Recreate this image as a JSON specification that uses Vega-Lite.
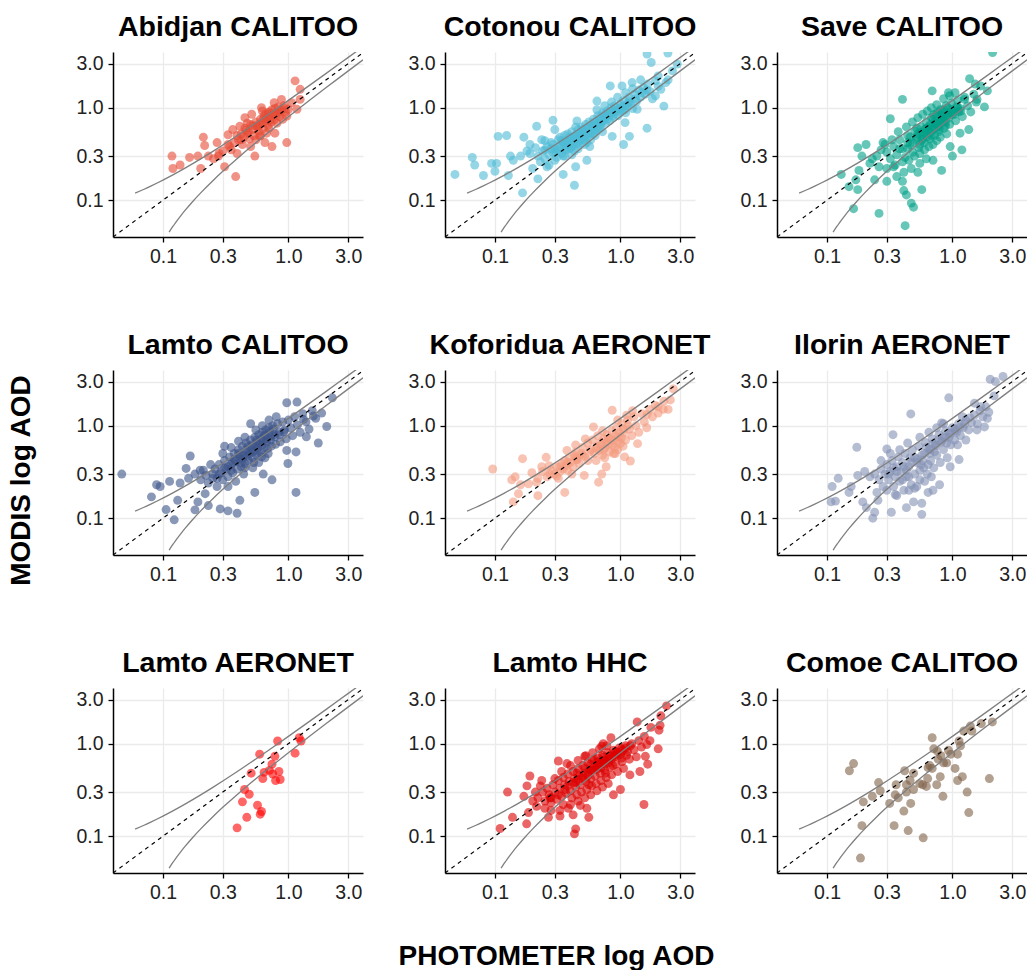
{
"padding": {"left": 7, "top": 12, "right": 0, "bottom": 5},
"config": {
  "font": "Liberation Sans",
  "view": {"stroke": null},
  "axis": {"domainColor": "black", "domainWidth": 1.5, "tickColor": "black", "tickWidth": 1.3, "tickSize": 5, "labelFont": "Liberation Sans", "labelFontSize": 19.5, "labelColor": "#222222", "labelPadding": 5, "gridColor": "#EBEBEB", "gridWidth": 1.3},
  "title": {"font": "Liberation Sans", "fontSize": 28.5, "fontWeight": "bold", "color": "black", "anchor": "middle", "offset": 11}
},
"datasets": {
  "ref": [
    {"k":"up","x":0.06,"y":0.119},{"k":"up","x":0.07,"y":0.1305},{"k":"up","x":0.08,"y":0.142},{"k":"up","x":0.09,"y":0.1535},{"k":"up","x":0.1,"y":0.165},{"k":"up","x":0.12,"y":0.188},{"k":"up","x":0.15,"y":0.2225},{"k":"up","x":0.2,"y":0.28},{"k":"up","x":0.25,"y":0.3375},{"k":"up","x":0.3,"y":0.395},{"k":"up","x":0.4,"y":0.51},{"k":"up","x":0.5,"y":0.625},{"k":"up","x":0.7,"y":0.855},{"k":"up","x":1,"y":1.2},{"k":"up","x":1.5,"y":1.775},{"k":"up","x":2,"y":2.35},{"k":"up","x":2.5,"y":2.925},{"k":"up","x":3,"y":3.5},{"k":"up","x":3.5,"y":4.075},{"k":"up","x":3.93,"y":4.5695},
    {"k":"lo","x":0.112,"y":0.0452},{"k":"lo","x":0.115,"y":0.04775},{"k":"lo","x":0.12,"y":0.052},{"k":"lo","x":0.125,"y":0.05625},{"k":"lo","x":0.13,"y":0.0605},{"k":"lo","x":0.14,"y":0.069},{"k":"lo","x":0.15,"y":0.0775},{"k":"lo","x":0.17,"y":0.0945},{"k":"lo","x":0.2,"y":0.12},{"k":"lo","x":0.25,"y":0.1625},{"k":"lo","x":0.3,"y":0.205},{"k":"lo","x":0.4,"y":0.29},{"k":"lo","x":0.5,"y":0.375},{"k":"lo","x":0.7,"y":0.545},{"k":"lo","x":1,"y":0.8},{"k":"lo","x":1.5,"y":1.225},{"k":"lo","x":2,"y":1.65},{"k":"lo","x":2.5,"y":2.075},{"k":"lo","x":3,"y":2.5},{"k":"lo","x":3.93,"y":3.2905},
    {"k":"eq","x":0.04,"y":0.04},{"k":"eq","x":3.93,"y":3.93}
  ],
  "AB": [
    {"x":0.118,"y":0.30},{"x":0.12,"y":0.22},{"x":0.137,"y":0.24},{"x":0.163,"y":0.29},{"x":0.19,"y":0.30},{"x":0.20,"y":0.22},{"x":0.21,"y":0.48},{"x":0.215,"y":0.39},{"x":0.23,"y":0.30},{"x":0.253,"y":0.28},{"x":0.27,"y":0.42},{"x":0.277,"y":0.30},{"x":0.31,"y":0.23},{"x":0.38,"y":0.18},{"x":0.33,"y":0.51},{"x":0.34,"y":0.38},{"x":0.36,"y":0.58},{"x":0.39,"y":0.32},{"x":0.41,"y":0.63},{"x":0.42,"y":0.45},{"x":0.45,"y":0.78},{"x":0.47,"y":0.53},{"x":0.50,"y":0.38},{"x":0.51,"y":0.85},{"x":0.54,"y":0.30},{"x":0.56,"y":0.63},{"x":0.59,"y":0.49},{"x":0.61,"y":1.0},{"x":0.63,"y":0.75},{"x":0.65,"y":0.42},{"x":0.67,"y":0.53},{"x":0.69,"y":0.88},{"x":0.74,"y":0.38},{"x":0.77,"y":1.13},{"x":0.78,"y":0.53},{"x":0.81,"y":0.68},{"x":0.86,"y":0.92},{"x":0.90,"y":0.75},{"x":0.97,"y":0.42},{"x":1.0,"y":0.96},{"x":1.06,"y":1.13},{"x":1.17,"y":0.96},{"x":1.13,"y":1.95},{"x":1.24,"y":1.58},{"x":1.24,"y":1.23},{"x":0.97,"y":0.81},{"x":0.88,"y":1.23},
    {"x":0.42,"y":0.52},{"x":0.45,"y":0.60},{"x":0.48,"y":0.55},{"x":0.50,"y":0.66},{"x":0.52,"y":0.58},{"x":0.55,"y":0.70},{"x":0.57,"y":0.62},{"x":0.60,"y":0.75},{"x":0.62,"y":0.68},{"x":0.64,"y":0.82},{"x":0.66,"y":0.72},{"x":0.68,"y":0.78},{"x":0.70,"y":0.90},{"x":0.72,"y":0.80},{"x":0.74,"y":0.95},{"x":0.76,"y":0.85},{"x":0.78,"y":0.98},{"x":0.80,"y":0.88},{"x":0.83,"y":1.02},{"x":0.85,"y":0.80},{"x":0.88,"y":0.95},{"x":0.92,"y":1.05},{"x":0.95,"y":0.90},{"x":0.40,"y":0.45},{"x":0.44,"y":0.48},{"x":0.47,"y":0.68},{"x":0.53,"y":0.50},{"x":0.58,"y":0.56},{"x":0.63,"y":0.60},{"x":0.69,"y":0.65},{"x":0.73,"y":0.70},{"x":0.77,"y":0.74},{"x":0.55,"y":0.45},{"x":0.60,"y":0.50},{"x":0.37,"y":0.42},{"x":0.39,"y":0.50},{"x":0.33,"y":0.40},{"x":0.35,"y":0.35},{"x":0.30,"y":0.34},{"x":0.28,"y":0.32},
    {"x":0.46,"y":0.57},{"x":0.52,"y":0.64},{"x":0.58,"y":0.66},{"x":0.66,"y":0.85},{"x":0.71,"y":0.74},{"x":0.79,"y":0.82},{"x":0.84,"y":0.90},{"x":0.43,"y":0.40},{"x":0.49,"y":0.46},{"x":0.62,"y":0.92},{"x":0.70,"y":0.60},{"x":0.93,"y":0.98}
  ],
  "CO": [
    {"x":0.048,"y":0.19},{"x":0.066,"y":0.29},{"x":0.069,"y":0.24},{"x":0.081,"y":0.185},{"x":0.094,"y":0.25},{"x":0.10,"y":0.205},{"x":0.103,"y":0.25},{"x":0.106,"y":0.49},{"x":0.124,"y":0.50},{"x":0.128,"y":0.185},{"x":0.133,"y":0.30},{"x":0.166,"y":0.12},{"x":0.17,"y":0.48},{"x":0.19,"y":0.32},{"x":0.20,"y":0.22},{"x":0.215,"y":0.63},{"x":0.22,"y":0.17},{"x":0.236,"y":0.45},{"x":0.25,"y":0.35},{"x":0.26,"y":0.23},{"x":0.29,"y":0.73},{"x":0.30,"y":0.58},{"x":0.35,"y":0.19},{"x":0.36,"y":0.30},{"x":0.43,"y":0.145},{"x":0.44,"y":0.23},{"x":0.45,"y":0.72},{"x":0.51,"y":0.45},{"x":0.54,"y":0.27},{"x":0.57,"y":0.38},{"x":0.65,"y":1.18},{"x":0.65,"y":0.58},{"x":0.73,"y":0.81},{"x":0.83,"y":1.72},{"x":0.86,"y":0.49},{"x":1.03,"y":1.72},{"x":1.06,"y":0.40},{"x":1.09,"y":0.69},{"x":1.18,"y":0.49},{"x":1.24,"y":1.87},{"x":1.36,"y":0.96},{"x":1.45,"y":2.0},{"x":1.63,"y":0.60},{"x":1.63,"y":3.8},{"x":1.76,"y":3.08},{"x":1.9,"y":1.34},{"x":2.0,"y":2.2},{"x":2.22,"y":1.04},{"x":2.1,"y":1.58},{"x":2.39,"y":3.9},{"x":2.4,"y":2.0},{"x":2.84,"y":2.96},{"x":2.6,"y":2.5},{"x":2.3,"y":1.87},
    {"x":0.22,"y":0.30},{"x":0.24,"y":0.34},{"x":0.25,"y":0.28},{"x":0.26,"y":0.38},{"x":0.27,"y":0.31},{"x":0.28,"y":0.42},{"x":0.29,"y":0.33},{"x":0.30,"y":0.36},{"x":0.31,"y":0.29},{"x":0.32,"y":0.45},{"x":0.33,"y":0.38},{"x":0.34,"y":0.32},{"x":0.35,"y":0.42},{"x":0.36,"y":0.50},{"x":0.37,"y":0.35},{"x":0.38,"y":0.40},{"x":0.39,"y":0.47},{"x":0.40,"y":0.37},{"x":0.41,"y":0.55},{"x":0.42,"y":0.43},{"x":0.43,"y":0.34},{"x":0.44,"y":0.50},{"x":0.45,"y":0.46},{"x":0.46,"y":0.58},{"x":0.47,"y":0.40},{"x":0.48,"y":0.53},{"x":0.49,"y":0.62},{"x":0.50,"y":0.48},{"x":0.52,"y":0.55},{"x":0.53,"y":0.66},{"x":0.54,"y":0.42},{"x":0.55,"y":0.60},{"x":0.56,"y":0.70},{"x":0.58,"y":0.52},{"x":0.60,"y":0.64},{"x":0.61,"y":0.75},{"x":0.62,"y":0.56},{"x":0.64,"y":0.70},{"x":0.66,"y":0.82},{"x":0.67,"y":0.60},{"x":0.69,"y":0.74},{"x":0.70,"y":0.66},{"x":0.72,"y":0.88},{"x":0.74,"y":0.78},{"x":0.76,"y":0.68},{"x":0.78,"y":0.92},{"x":0.80,"y":0.82},{"x":0.82,"y":0.72},{"x":0.84,"y":1.00},{"x":0.86,"y":0.88},{"x":0.88,"y":0.78},{"x":0.90,"y":1.05},{"x":0.93,"y":0.92},{"x":0.96,"y":0.82},{"x":1.00,"y":1.10},{"x":1.03,"y":0.95},{"x":1.06,"y":1.20},{"x":1.10,"y":0.88},{"x":1.13,"y":1.05},{"x":1.17,"y":1.30},{"x":1.20,"y":1.12},{"x":1.25,"y":0.98},{"x":1.30,"y":1.40},{"x":1.35,"y":1.18},{"x":1.40,"y":1.55},{"x":1.45,"y":1.30},{"x":1.52,"y":1.65},{"x":1.58,"y":1.40},{"x":1.65,"y":1.80},{"x":1.72,"y":1.50},{"x":1.80,"y":1.25},{"x":1.90,"y":1.95},{"x":2.0,"y":1.70},{"x":0.27,"y":0.24},{"x":0.30,"y":0.27},{"x":0.35,"y":0.30},{"x":0.41,"y":0.31},{"x":0.46,"y":0.36},{"x":0.52,"y":0.40},{"x":0.58,"y":0.45},{"x":0.63,"y":0.50},{"x":0.72,"y":0.55},{"x":0.44,"y":0.62},{"x":0.38,"y":0.52},{"x":0.33,"y":0.48},{"x":0.29,"y":0.40},{"x":0.25,"y":0.44},{"x":0.21,"y":0.37},{"x":0.19,"y":0.40},{"x":0.18,"y":0.34},{"x":0.16,"y":0.30},{"x":0.14,"y":0.27},{"x":0.23,"y":0.26},{"x":0.95,"y":1.30},{"x":0.85,"y":1.15},{"x":0.75,"y":1.05},{"x":0.65,"y":0.95},{"x":1.1,"y":1.45},{"x":1.25,"y":1.60},
    {"x":0.32,"y":0.35},{"x":0.36,"y":0.40},{"x":0.40,"y":0.44},{"x":0.43,"y":0.48},{"x":0.47,"y":0.50},{"x":0.51,"y":0.55},{"x":0.55,"y":0.53},{"x":0.59,"y":0.62},{"x":0.63,"y":0.65},{"x":0.68,"y":0.70},{"x":0.73,"y":0.72},{"x":0.77,"y":0.80},{"x":0.83,"y":0.85},{"x":0.89,"y":0.92},{"x":0.98,"y":0.98},{"x":1.08,"y":1.05},{"x":1.18,"y":1.18},{"x":1.32,"y":1.25},{"x":1.48,"y":1.45},{"x":1.62,"y":1.55},{"x":0.28,"y":0.36},{"x":0.34,"y":0.44},{"x":0.39,"y":0.36},{"x":0.45,"y":0.41},
    {"x":0.34,"y":0.40},{"x":0.37,"y":0.44},{"x":0.40,"y":0.48},{"x":0.42,"y":0.40},{"x":0.45,"y":0.52},{"x":0.48,"y":0.45},{"x":0.50,"y":0.58},{"x":0.53,"y":0.50},{"x":0.56,"y":0.62},{"x":0.59,"y":0.56},{"x":0.62,"y":0.70},{"x":0.65,"y":0.63},{"x":0.68,"y":0.78},{"x":0.71,"y":0.70},{"x":0.75,"y":0.85},{"x":0.79,"y":0.76},{"x":0.83,"y":0.92},{"x":0.87,"y":0.82},{"x":0.92,"y":0.98},{"x":0.97,"y":0.90},{"x":1.02,"y":1.02},{"x":1.08,"y":0.95},{"x":1.15,"y":1.12},{"x":0.31,"y":0.33},{"x":0.36,"y":0.36},{"x":0.41,"y":0.38},{"x":0.47,"y":0.44},{"x":0.54,"y":0.48},{"x":0.61,"y":0.52},{"x":0.69,"y":0.60}
  ],
  "SA": [
    {"x":0.13,"y":0.19},{"x":0.15,"y":0.14},{"x":0.163,"y":0.081},{"x":0.17,"y":0.166},{"x":0.176,"y":0.37},{"x":0.176,"y":0.13},{"x":0.18,"y":0.21},{"x":0.19,"y":0.30},{"x":0.205,"y":0.40},{"x":0.22,"y":0.25},{"x":0.24,"y":0.166},{"x":0.26,"y":0.072},{"x":0.26,"y":0.23},{"x":0.29,"y":0.40},{"x":0.30,"y":0.16},{"x":0.32,"y":0.76},{"x":0.34,"y":0.23},{"x":0.40,"y":1.23},{"x":0.40,"y":0.16},{"x":0.41,"y":0.127},{"x":0.43,"y":0.114},{"x":0.42,"y":0.053},{"x":0.47,"y":0.093},{"x":0.49,"y":0.084},{"x":0.57,"y":0.13},{"x":0.53,"y":0.20},{"x":0.69,"y":1.52},{"x":0.70,"y":0.27},{"x":0.82,"y":0.21},{"x":0.93,"y":1.45},{"x":0.96,"y":0.38},{"x":1.0,"y":0.30},{"x":1.15,"y":0.53},{"x":1.19,"y":0.35},{"x":1.35,"y":0.58},{"x":1.37,"y":2.06},{"x":1.52,"y":1.8},{"x":1.57,"y":1.23},{"x":1.8,"y":1.02},{"x":1.9,"y":1.52},{"x":2.09,"y":3.95},{"x":1.68,"y":1.72},{"x":1.25,"y":1.23},
    {"x":0.30,"y":0.33},{"x":0.32,"y":0.28},{"x":0.34,"y":0.38},{"x":0.36,"y":0.31},{"x":0.38,"y":0.45},{"x":0.40,"y":0.36},{"x":0.42,"y":0.29},{"x":0.44,"y":0.50},{"x":0.46,"y":0.40},{"x":0.48,"y":0.33},{"x":0.50,"y":0.56},{"x":0.52,"y":0.45},{"x":0.54,"y":0.37},{"x":0.56,"y":0.62},{"x":0.58,"y":0.50},{"x":0.60,"y":0.42},{"x":0.62,"y":0.70},{"x":0.64,"y":0.56},{"x":0.66,"y":0.46},{"x":0.68,"y":0.78},{"x":0.70,"y":0.62},{"x":0.72,"y":0.50},{"x":0.74,"y":0.86},{"x":0.76,"y":0.68},{"x":0.78,"y":0.55},{"x":0.80,"y":0.95},{"x":0.83,"y":0.75},{"x":0.86,"y":0.60},{"x":0.89,"y":1.05},{"x":0.92,"y":0.82},{"x":0.95,"y":0.66},{"x":0.98,"y":1.12},{"x":1.02,"y":0.90},{"x":1.06,"y":0.72},{"x":1.10,"y":1.20},{"x":1.15,"y":0.98},{"x":1.20,"y":0.80},{"x":1.25,"y":1.30},{"x":1.32,"y":1.05},{"x":1.40,"y":0.90},{"x":1.48,"y":1.40},{"x":1.55,"y":1.15},{"x":0.35,"y":0.24},{"x":0.40,"y":0.26},{"x":0.45,"y":0.27},{"x":0.50,"y":0.30},{"x":0.55,"y":0.32},{"x":0.60,"y":0.35},{"x":0.65,"y":0.38},{"x":0.70,"y":0.40},{"x":0.75,"y":0.44},{"x":0.80,"y":0.48},{"x":0.90,"y":0.52},{"x":0.25,"y":0.30},{"x":0.27,"y":0.35},{"x":0.23,"y":0.28},{"x":0.28,"y":0.42},{"x":0.30,"y":0.22},{"x":0.33,"y":0.45},{"x":0.37,"y":0.55},{"x":0.43,"y":0.62},{"x":0.48,"y":0.70},{"x":0.53,"y":0.78},{"x":0.58,"y":0.85},{"x":0.63,"y":0.92},{"x":0.68,"y":1.00},{"x":0.75,"y":1.08},{"x":0.85,"y":1.25},{"x":0.95,"y":1.35},{"x":1.05,"y":1.45},{"x":0.53,"y":0.52},{"x":0.62,"y":0.60},{"x":0.72,"y":0.70},{"x":0.82,"y":0.82},{"x":0.44,"y":0.42},{"x":0.38,"y":0.36},{"x":0.57,"y":0.44},{"x":0.67,"y":0.54},{"x":0.78,"y":0.64},{"x":0.88,"y":0.70},{"x":1.0,"y":0.85},{"x":1.12,"y":0.90},{"x":0.47,"y":0.22},{"x":0.55,"y":0.25},{"x":0.62,"y":0.28},{"x":0.41,"y":0.20},{"x":0.36,"y":0.18},
    {"x":0.60,"y":0.58},{"x":0.66,"y":0.65},{"x":0.73,"y":0.60},{"x":0.80,"y":0.72},{"x":0.87,"y":0.80},{"x":0.95,"y":0.88},{"x":0.70,"y":0.75},{"x":0.63,"y":0.48},{"x":0.77,"y":0.90},{"x":0.52,"y":0.60},{"x":0.46,"y":0.48},{"x":0.85,"y":0.95},{"x":1.08,"y":1.02},{"x":0.92,"y":1.00},
    {"x":0.52,"y":0.48},{"x":0.56,"y":0.54},{"x":0.61,"y":0.52},{"x":0.65,"y":0.62},{"x":0.69,"y":0.58},{"x":0.73,"y":0.68},{"x":0.77,"y":0.62},{"x":0.81,"y":0.78},{"x":0.85,"y":0.70},{"x":0.90,"y":0.86},{"x":0.94,"y":0.78},{"x":0.99,"y":0.95},{"x":1.04,"y":0.85},{"x":1.10,"y":1.00},{"x":1.17,"y":0.92},{"x":0.48,"y":0.42},{"x":0.58,"y":0.46},{"x":0.68,"y":0.50},{"x":0.79,"y":0.58},{"x":0.88,"y":0.64},{"x":0.44,"y":0.36},{"x":0.55,"y":0.40},{"x":0.71,"y":0.84},{"x":0.83,"y":0.88}
  ],
  "LC": [
    {"x":0.047,"y":0.30},{"x":0.081,"y":0.17},{"x":0.089,"y":0.23},{"x":0.095,"y":0.22},{"x":0.106,"y":0.124},{"x":0.113,"y":0.25},{"x":0.123,"y":0.096},{"x":0.131,"y":0.156},{"x":0.137,"y":0.24},{"x":0.153,"y":0.345},{"x":0.165,"y":0.47},{"x":0.18,"y":0.123},{"x":0.19,"y":0.15},{"x":0.198,"y":0.33},{"x":0.217,"y":0.184},{"x":0.23,"y":0.137},{"x":0.286,"y":0.126},{"x":0.31,"y":0.60},{"x":0.33,"y":0.12},{"x":0.39,"y":0.113},{"x":0.41,"y":0.156},{"x":0.50,"y":1.05},{"x":0.54,"y":0.19},{"x":0.63,"y":0.30},{"x":0.74,"y":0.26},{"x":0.97,"y":1.77},{"x":0.99,"y":0.39},{"x":1.15,"y":0.19},{"x":1.17,"y":1.8},{"x":1.15,"y":0.52},{"x":1.39,"y":0.76},{"x":1.58,"y":1.27},{"x":1.73,"y":0.65},{"x":1.84,"y":1.37},{"x":2.02,"y":0.98},{"x":2.24,"y":2.0},{"x":0.97,"y":0.54},{"x":1.32,"y":1.17},
    {"x":0.20,"y":0.26},{"x":0.22,"y":0.29},{"x":0.23,"y":0.24},{"x":0.25,"y":0.30},{"x":0.26,"y":0.34},{"x":0.27,"y":0.27},{"x":0.28,"y":0.38},{"x":0.29,"y":0.31},{"x":0.30,"y":0.26},{"x":0.31,"y":0.42},{"x":0.32,"y":0.34},{"x":0.33,"y":0.28},{"x":0.34,"y":0.46},{"x":0.35,"y":0.38},{"x":0.36,"y":0.31},{"x":0.37,"y":0.50},{"x":0.38,"y":0.41},{"x":0.39,"y":0.34},{"x":0.40,"y":0.55},{"x":0.41,"y":0.44},{"x":0.42,"y":0.36},{"x":0.43,"y":0.60},{"x":0.44,"y":0.48},{"x":0.45,"y":0.39},{"x":0.46,"y":0.65},{"x":0.47,"y":0.52},{"x":0.48,"y":0.42},{"x":0.50,"y":0.70},{"x":0.51,"y":0.56},{"x":0.52,"y":0.45},{"x":0.54,"y":0.75},{"x":0.55,"y":0.60},{"x":0.56,"y":0.48},{"x":0.58,"y":0.80},{"x":0.59,"y":0.64},{"x":0.60,"y":0.51},{"x":0.62,"y":0.85},{"x":0.63,"y":0.68},{"x":0.64,"y":0.54},{"x":0.66,"y":0.90},{"x":0.67,"y":0.72},{"x":0.68,"y":0.57},{"x":0.70,"y":0.95},{"x":0.72,"y":0.76},{"x":0.73,"y":0.60},{"x":0.75,"y":1.00},{"x":0.77,"y":0.80},{"x":0.79,"y":0.63},{"x":0.82,"y":1.05},{"x":0.84,"y":0.85},{"x":0.86,"y":0.67},{"x":0.90,"y":1.10},{"x":0.93,"y":0.90},{"x":0.96,"y":0.72},{"x":1.00,"y":1.15},{"x":1.04,"y":0.95},{"x":1.08,"y":0.78},{"x":1.12,"y":1.25},{"x":1.18,"y":1.02},{"x":1.24,"y":0.85},{"x":1.30,"y":1.35},{"x":1.38,"y":1.10},{"x":1.46,"y":0.92},{"x":1.55,"y":1.45},{"x":1.65,"y":1.20},{"x":0.24,"y":0.38},{"x":0.27,"y":0.22},{"x":0.33,"y":0.22},{"x":0.38,"y":0.25},{"x":0.44,"y":0.30},{"x":0.52,"y":0.35},{"x":0.58,"y":0.40},{"x":0.65,"y":0.45},{"x":0.40,"y":0.68},{"x":0.45,"y":0.75},{"x":0.35,"y":0.58},{"x":0.30,"y":0.50},{"x":0.55,"y":0.90},{"x":0.62,"y":1.00},{"x":0.70,"y":1.15},{"x":0.80,"y":1.25},{"x":0.18,"y":0.30},{"x":0.16,"y":0.27},{"x":0.21,"y":0.33},{"x":0.25,"y":0.27},
    {"x":0.36,"y":0.40},{"x":0.41,"y":0.48},{"x":0.46,"y":0.55},{"x":0.51,"y":0.62},{"x":0.56,"y":0.66},{"x":0.61,"y":0.72},{"x":0.66,"y":0.80},{"x":0.71,"y":0.86},{"x":0.76,"y":0.92},{"x":0.31,"y":0.35},{"x":0.43,"y":0.44},{"x":0.49,"y":0.50},{"x":0.55,"y":0.54},
    {"x":0.33,"y":0.36},{"x":0.37,"y":0.43},{"x":0.42,"y":0.40},{"x":0.47,"y":0.47},{"x":0.52,"y":0.52},{"x":0.57,"y":0.58},{"x":0.62,"y":0.62},{"x":0.67,"y":0.66},{"x":0.72,"y":0.70},{"x":0.78,"y":0.76},{"x":0.85,"y":0.80},{"x":0.92,"y":0.86},{"x":0.40,"y":0.50},{"x":0.48,"y":0.60},{"x":0.56,"y":0.70},{"x":0.64,"y":0.78},{"x":0.45,"y":0.35},{"x":0.53,"y":0.40},{"x":0.61,"y":0.46},{"x":0.69,"y":0.50},{"x":0.35,"y":0.33},{"x":0.28,"y":0.30}
  ],
  "KO": [
    {"x":0.096,"y":0.34},{"x":0.136,"y":0.26},{"x":0.145,"y":0.28},{"x":0.14,"y":0.15},{"x":0.154,"y":0.184},{"x":0.16,"y":0.23},{"x":0.166,"y":0.44},{"x":0.185,"y":0.235},{"x":0.197,"y":0.31},{"x":0.215,"y":0.245},{"x":0.22,"y":0.175},{"x":0.236,"y":0.36},{"x":0.256,"y":0.455},{"x":0.275,"y":0.30},{"x":0.31,"y":0.285},{"x":0.36,"y":0.19},{"x":0.375,"y":0.54},{"x":0.44,"y":0.62},{"x":0.45,"y":0.43},{"x":0.515,"y":0.29},{"x":0.525,"y":0.72},{"x":0.61,"y":0.97},{"x":0.67,"y":0.245},{"x":0.71,"y":0.30},{"x":0.77,"y":0.36},{"x":0.86,"y":1.47},{"x":0.91,"y":0.50},{"x":1.08,"y":0.46},{"x":1.2,"y":0.415},{"x":1.37,"y":0.64},{"x":1.63,"y":1.32},{"x":2.0,"y":1.37},{"x":2.22,"y":1.84},{"x":2.4,"y":1.5},{"x":2.5,"y":1.9},{"x":2.64,"y":2.5},{"x":2.2,"y":1.5},{"x":2.0,"y":1.6},
    {"x":0.26,"y":0.28},{"x":0.28,"y":0.33},{"x":0.30,"y":0.30},{"x":0.31,"y":0.36},{"x":0.33,"y":0.32},{"x":0.34,"y":0.39},{"x":0.35,"y":0.34},{"x":0.36,"y":0.42},{"x":0.37,"y":0.37},{"x":0.38,"y":0.33},{"x":0.39,"y":0.45},{"x":0.40,"y":0.40},{"x":0.42,"y":0.36},{"x":0.43,"y":0.48},{"x":0.45,"y":0.43},{"x":0.47,"y":0.39},{"x":0.49,"y":0.50},{"x":0.52,"y":0.46},{"x":0.55,"y":0.42},{"x":0.58,"y":0.55},{"x":0.62,"y":0.50},{"x":0.65,"y":0.60},{"x":0.68,"y":0.54},{"x":0.70,"y":0.66},{"x":0.72,"y":0.48},{"x":0.74,"y":0.72},{"x":0.76,"y":0.58},{"x":0.78,"y":0.80},{"x":0.80,"y":0.63},{"x":0.82,"y":0.52},{"x":0.85,"y":0.88},{"x":0.87,"y":0.70},{"x":0.90,"y":0.58},{"x":0.93,"y":0.95},{"x":0.96,"y":0.76},{"x":1.00,"y":0.64},{"x":1.03,"y":1.05},{"x":1.06,"y":0.85},{"x":1.10,"y":0.70},{"x":1.14,"y":1.15},{"x":1.18,"y":0.92},{"x":1.23,"y":0.78},{"x":1.28,"y":1.25},{"x":1.33,"y":1.00},{"x":1.40,"y":0.85},{"x":1.48,"y":1.35},{"x":1.55,"y":1.10},{"x":1.62,"y":0.95},{"x":1.72,"y":1.50},{"x":1.80,"y":1.25},{"x":1.90,"y":1.65},{"x":0.60,"y":0.70},{"x":0.66,"y":0.78},{"x":0.72,"y":0.88},{"x":0.64,"y":0.42},{"x":0.75,"y":0.45},{"x":0.88,"y":0.50},{"x":0.95,"y":0.55},{"x":1.05,"y":0.60},{"x":0.95,"y":1.15},{"x":1.12,"y":1.30},{"x":1.25,"y":1.45},{"x":0.50,"y":0.58},{"x":0.55,"y":0.65},{"x":0.44,"y":0.52},{"x":0.41,"y":0.30},{"x":0.32,"y":0.27},{"x":0.24,"y":0.32},{"x":0.22,"y":0.27},{"x":0.27,"y":0.37},
    {"x":0.33,"y":0.36},{"x":0.38,"y":0.40},{"x":0.44,"y":0.45},{"x":0.50,"y":0.48},{"x":0.57,"y":0.52},{"x":0.64,"y":0.57},{"x":0.70,"y":0.62},{"x":0.77,"y":0.66},{"x":0.84,"y":0.72},{"x":0.91,"y":0.78},{"x":0.98,"y":0.84},{"x":1.06,"y":0.92},{"x":1.15,"y":1.0},{"x":0.86,"y":0.62},{"x":0.95,"y":0.68},{"x":1.02,"y":0.74},{"x":0.73,"y":0.55},{"x":0.80,"y":0.72}
  ],
  "IL": [
    {"x":0.108,"y":0.15},{"x":0.11,"y":0.22},{"x":0.117,"y":0.153},{"x":0.123,"y":0.27},{"x":0.15,"y":0.19},{"x":0.156,"y":0.22},{"x":0.173,"y":0.585},{"x":0.176,"y":0.29},{"x":0.193,"y":0.15},{"x":0.206,"y":0.13},{"x":0.232,"y":0.10},{"x":0.24,"y":0.116},{"x":0.255,"y":0.156},{"x":0.30,"y":0.56},{"x":0.326,"y":0.116},{"x":0.336,"y":0.80},{"x":0.36,"y":0.176},{"x":0.43,"y":0.13},{"x":0.466,"y":1.34},{"x":0.49,"y":0.15},{"x":0.50,"y":0.21},{"x":0.57,"y":0.11},{"x":0.57,"y":0.145},{"x":0.64,"y":0.19},{"x":0.70,"y":0.20},{"x":0.79,"y":0.23},{"x":0.82,"y":1.07},{"x":0.935,"y":2.0},{"x":0.96,"y":0.36},{"x":1.13,"y":0.43},{"x":1.28,"y":0.70},{"x":1.57,"y":0.90},{"x":1.8,"y":0.97},{"x":2.0,"y":3.18},{"x":2.2,"y":3.0},{"x":2.53,"y":3.4},{"x":2.15,"y":2.1},{"x":1.9,"y":1.2},{"x":1.68,"y":1.6},{"x":1.5,"y":1.75},
    {"x":0.24,"y":0.30},{"x":0.26,"y":0.26},{"x":0.27,"y":0.34},{"x":0.28,"y":0.22},{"x":0.29,"y":0.30},{"x":0.30,"y":0.38},{"x":0.31,"y":0.26},{"x":0.32,"y":0.32},{"x":0.33,"y":0.42},{"x":0.34,"y":0.22},{"x":0.35,"y":0.28},{"x":0.36,"y":0.36},{"x":0.37,"y":0.46},{"x":0.38,"y":0.25},{"x":0.39,"y":0.32},{"x":0.40,"y":0.40},{"x":0.41,"y":0.20},{"x":0.42,"y":0.50},{"x":0.43,"y":0.28},{"x":0.45,"y":0.36},{"x":0.46,"y":0.45},{"x":0.47,"y":0.23},{"x":0.48,"y":0.55},{"x":0.50,"y":0.30},{"x":0.52,"y":0.40},{"x":0.54,"y":0.60},{"x":0.55,"y":0.26},{"x":0.57,"y":0.48},{"x":0.59,"y":0.35},{"x":0.61,"y":0.66},{"x":0.63,"y":0.30},{"x":0.65,"y":0.55},{"x":0.67,"y":0.42},{"x":0.69,"y":0.72},{"x":0.71,"y":0.35},{"x":0.73,"y":0.62},{"x":0.75,"y":0.48},{"x":0.78,"y":0.80},{"x":0.80,"y":0.40},{"x":0.82,"y":0.68},{"x":0.85,"y":0.55},{"x":0.88,"y":0.88},{"x":0.91,"y":0.45},{"x":0.94,"y":0.75},{"x":0.97,"y":0.62},{"x":1.00,"y":0.95},{"x":1.04,"y":0.70},{"x":1.08,"y":0.85},{"x":1.12,"y":1.05},{"x":1.16,"y":0.78},{"x":1.22,"y":0.95},{"x":1.28,"y":1.15},{"x":1.35,"y":0.90},{"x":1.42,"y":1.08},{"x":1.50,"y":1.30},{"x":1.58,"y":1.05},{"x":1.66,"y":1.45},{"x":1.75,"y":1.25},{"x":1.85,"y":1.60},{"x":1.95,"y":1.40},{"x":0.30,"y":0.20},{"x":0.35,"y":0.18},{"x":0.45,"y":0.20},{"x":0.52,"y":0.22},{"x":0.60,"y":0.25},{"x":0.68,"y":0.28},{"x":0.38,"y":0.55},{"x":0.32,"y":0.50},{"x":0.44,"y":0.65},{"x":0.55,"y":0.75},{"x":0.65,"y":0.85},{"x":0.75,"y":0.95},{"x":0.85,"y":1.05},{"x":0.27,"y":0.42},{"x":0.22,"y":0.28},{"x":0.20,"y":0.32},{"x":0.25,"y":0.19},{"x":0.43,"y":0.33},{"x":0.58,"y":0.42},{"x":0.72,"y":0.52},{"x":0.90,"y":0.65},{"x":1.1,"y":0.62},
    {"x":0.62,"y":0.58},{"x":0.70,"y":0.64},{"x":0.78,"y":0.70},{"x":0.86,"y":0.76},{"x":0.95,"y":0.84},{"x":1.05,"y":0.92},{"x":0.50,"y":0.45},{"x":0.56,"y":0.38},{"x":0.66,"y":0.50},{"x":1.2,"y":1.25},{"x":1.38,"y":1.22},{"x":0.34,"y":0.35},
    {"x":0.36,"y":0.32},{"x":0.41,"y":0.36},{"x":0.47,"y":0.40},{"x":0.53,"y":0.44},{"x":0.60,"y":0.50},{"x":0.67,"y":0.56},{"x":0.74,"y":0.60},{"x":0.81,"y":0.66},{"x":0.89,"y":0.74},{"x":0.97,"y":0.82},{"x":1.05,"y":0.88},{"x":1.15,"y":0.96},{"x":1.25,"y":1.05},{"x":0.45,"y":0.28},{"x":0.55,"y":0.33},{"x":0.64,"y":0.38},{"x":0.40,"y":0.26},{"x":0.31,"y":0.30}
  ],
  "LA": [
    {"x":0.39,"y":0.123},{"x":0.466,"y":0.16},{"x":0.43,"y":0.235},{"x":0.447,"y":0.32},{"x":0.487,"y":0.284},{"x":0.505,"y":0.48},{"x":0.567,"y":0.216},{"x":0.596,"y":0.173},{"x":0.61,"y":0.185},{"x":0.59,"y":0.77},{"x":0.625,"y":0.42},{"x":0.64,"y":0.49},{"x":0.706,"y":0.515},{"x":0.74,"y":0.60},{"x":0.75,"y":0.47},{"x":0.78,"y":0.73},{"x":0.79,"y":0.40},{"x":0.82,"y":1.07},{"x":0.84,"y":0.50},{"x":0.86,"y":0.41},{"x":1.13,"y":0.79},{"x":1.22,"y":1.16},{"x":1.26,"y":1.07}
  ],
  "LH": [
    {"x":0.11,"y":0.121},{"x":0.126,"y":0.30},{"x":0.138,"y":0.16},{"x":0.17,"y":0.27},{"x":0.179,"y":0.136},{"x":0.18,"y":0.35},{"x":0.19,"y":0.447},{"x":0.185,"y":0.18},{"x":0.215,"y":0.21},{"x":0.236,"y":0.40},{"x":0.267,"y":0.16},{"x":0.275,"y":0.26},{"x":0.32,"y":0.65},{"x":0.33,"y":0.165},{"x":0.375,"y":0.61},{"x":0.385,"y":0.20},{"x":0.43,"y":0.106},{"x":0.44,"y":0.12},{"x":0.42,"y":0.17},{"x":0.48,"y":0.215},{"x":0.56,"y":0.16},{"x":0.54,"y":0.20},{"x":0.52,"y":0.73},{"x":0.71,"y":0.94},{"x":0.73,"y":1.0},{"x":0.84,"y":1.16},{"x":0.88,"y":0.28},{"x":1.0,"y":0.32},{"x":1.19,"y":0.46},{"x":1.36,"y":1.72},{"x":1.43,"y":0.50},{"x":1.54,"y":0.22},{"x":1.58,"y":0.73},{"x":1.65,"y":0.60},{"x":1.72,"y":1.08},{"x":2.0,"y":0.88},{"x":2.07,"y":1.58},{"x":2.03,"y":1.4},{"x":2.1,"y":2.0},{"x":2.33,"y":2.56},{"x":1.75,"y":1.5},
    {"x":0.22,"y":0.26},{"x":0.24,"y":0.30},{"x":0.25,"y":0.24},{"x":0.26,"y":0.33},{"x":0.27,"y":0.28},{"x":0.28,"y":0.23},{"x":0.29,"y":0.36},{"x":0.30,"y":0.30},{"x":0.31,"y":0.25},{"x":0.32,"y":0.40},{"x":0.33,"y":0.33},{"x":0.34,"y":0.27},{"x":0.35,"y":0.43},{"x":0.36,"y":0.36},{"x":0.37,"y":0.29},{"x":0.38,"y":0.47},{"x":0.39,"y":0.39},{"x":0.40,"y":0.31},{"x":0.41,"y":0.26},{"x":0.42,"y":0.50},{"x":0.43,"y":0.42},{"x":0.44,"y":0.34},{"x":0.45,"y":0.28},{"x":0.46,"y":0.54},{"x":0.47,"y":0.45},{"x":0.48,"y":0.36},{"x":0.49,"y":0.30},{"x":0.50,"y":0.58},{"x":0.52,"y":0.48},{"x":0.53,"y":0.39},{"x":0.54,"y":0.32},{"x":0.55,"y":0.62},{"x":0.57,"y":0.52},{"x":0.58,"y":0.42},{"x":0.59,"y":0.35},{"x":0.60,"y":0.66},{"x":0.62,"y":0.56},{"x":0.63,"y":0.45},{"x":0.64,"y":0.37},{"x":0.66,"y":0.70},{"x":0.68,"y":0.60},{"x":0.69,"y":0.48},{"x":0.70,"y":0.40},{"x":0.72,"y":0.75},{"x":0.74,"y":0.64},{"x":0.75,"y":0.52},{"x":0.77,"y":0.43},{"x":0.79,"y":0.80},{"x":0.81,"y":0.68},{"x":0.83,"y":0.56},{"x":0.85,"y":0.46},{"x":0.88,"y":0.85},{"x":0.90,"y":0.72},{"x":0.92,"y":0.60},{"x":0.95,"y":0.50},{"x":0.98,"y":0.90},{"x":1.00,"y":0.77},{"x":1.03,"y":0.64},{"x":1.06,"y":0.54},{"x":1.10,"y":0.95},{"x":1.14,"y":0.82},{"x":1.18,"y":0.68},{"x":1.23,"y":1.00},{"x":1.28,"y":0.86},{"x":1.34,"y":0.72},{"x":1.40,"y":1.08},{"x":1.47,"y":0.92},{"x":1.55,"y":1.20},{"x":1.62,"y":0.98},{"x":0.35,"y":0.22},{"x":0.40,"y":0.22},{"x":0.46,"y":0.24},{"x":0.52,"y":0.26},{"x":0.58,"y":0.28},{"x":0.65,"y":0.31},{"x":0.72,"y":0.34},{"x":0.80,"y":0.37},{"x":0.30,"y":0.42},{"x":0.34,"y":0.50},{"x":0.40,"y":0.58},{"x":0.46,"y":0.66},{"x":0.53,"y":0.74},{"x":0.60,"y":0.80},{"x":0.68,"y":0.88},{"x":0.78,"y":0.95},{"x":0.25,"y":0.20},{"x":0.28,"y":0.19},{"x":0.33,"y":0.19},{"x":0.20,"y":0.24},{"x":0.21,"y":0.30},{"x":0.23,"y":0.35},{"x":0.55,"y":0.45},{"x":0.65,"y":0.53},{"x":0.75,"y":0.60},{"x":0.85,"y":0.68},{"x":0.95,"y":0.75},{"x":1.05,"y":0.85},{"x":0.62,"y":0.68},{"x":0.70,"y":0.55},{"x":0.80,"y":0.62},{"x":0.90,"y":0.80},
    {"x":0.60,"y":0.52},{"x":0.67,"y":0.58},{"x":0.73,"y":0.66},{"x":0.82,"y":0.74},{"x":0.93,"y":0.82},{"x":1.02,"y":0.70},{"x":0.50,"y":0.42},{"x":0.44,"y":0.38},{"x":0.56,"y":0.36},{"x":0.76,"y":0.48},{"x":0.87,"y":0.58},{"x":1.12,"y":0.75},
    {"x":0.38,"y":0.35},{"x":0.42,"y":0.38},{"x":0.46,"y":0.41},{"x":0.50,"y":0.44},{"x":0.55,"y":0.49},{"x":0.60,"y":0.52},{"x":0.65,"y":0.57},{"x":0.70,"y":0.62},{"x":0.76,"y":0.66},{"x":0.82,"y":0.70},{"x":0.88,"y":0.74},{"x":0.95,"y":0.80},{"x":1.02,"y":0.88},{"x":1.10,"y":0.90},{"x":1.20,"y":0.95},{"x":0.45,"y":0.48},{"x":0.52,"y":0.54},{"x":0.58,"y":0.60},{"x":0.66,"y":0.64},{"x":0.73,"y":0.72},{"x":0.36,"y":0.32},{"x":0.32,"y":0.28},{"x":0.28,"y":0.26}
  ],
  "CM": [
    {"x":0.151,"y":0.51},{"x":0.163,"y":0.61},{"x":0.185,"y":0.058},{"x":0.19,"y":0.13},{"x":0.195,"y":0.235},{"x":0.23,"y":0.27},{"x":0.258,"y":0.38},{"x":0.266,"y":0.31},{"x":0.316,"y":0.226},{"x":0.343,"y":0.13},{"x":0.35,"y":0.28},{"x":0.356,"y":0.36},{"x":0.37,"y":0.26},{"x":0.41,"y":0.187},{"x":0.416,"y":0.51},{"x":0.43,"y":0.36},{"x":0.43,"y":0.30},{"x":0.444,"y":0.115},{"x":0.46,"y":0.40},{"x":0.465,"y":0.226},{"x":0.49,"y":0.48},{"x":0.49,"y":0.32},{"x":0.55,"y":0.37},{"x":0.585,"y":0.096},{"x":0.58,"y":0.36},{"x":0.62,"y":0.345},{"x":0.635,"y":0.42},{"x":0.64,"y":0.55},{"x":0.66,"y":0.58},{"x":0.69,"y":1.16},{"x":0.69,"y":0.54},{"x":0.75,"y":0.36},{"x":0.76,"y":0.83},{"x":0.77,"y":0.68},{"x":0.80,"y":0.44},{"x":0.84,"y":0.27},{"x":0.85,"y":0.62},{"x":0.90,"y":0.62},{"x":0.93,"y":0.85},{"x":0.97,"y":0.77},{"x":1.05,"y":0.54},{"x":1.10,"y":0.77},{"x":1.10,"y":0.40},{"x":1.13,"y":1.07},{"x":1.16,"y":0.95},{"x":1.2,"y":0.44},{"x":1.23,"y":1.37},{"x":1.31,"y":0.30},{"x":1.35,"y":0.18},{"x":1.39,"y":1.55},{"x":1.43,"y":1.37},{"x":1.70,"y":1.65},{"x":1.97,"y":0.42},{"x":2.08,"y":1.72},{"x":0.71,"y":0.88},{"x":0.81,"y":0.74}
  ]
},
"vconcat": [
  {"hconcat": [
    {"title": "Abidjan CALITOO", "width": 250, "height": 185,
     "encoding": {"x": {"field": "x", "type": "quantitative", "scale": {"type": "log", "domain": [0.04, 3.93]}, "axis": {"values": [0.1, 0.3, 1, 3], "format": ".1f", "title": null}}, "y": {"field": "y", "type": "quantitative", "scale": {"type": "log", "domain": [0.04, 4.0]}, "axis": {"values": [0.1, 0.3, 1, 3], "format": ".1f", "title": null}}},
     "layer": [
       {"data": {"name": "AB"}, "mark": {"type": "circle", "size": 80, "opacity": 0.6, "color": "#E64B35", "clip": true}},
       {"data": {"name": "ref"}, "transform": [{"filter": "datum.k != 'eq'"}], "mark": {"type": "line", "color": "#7F7F7F", "strokeWidth": 1.3, "clip": true, "interpolate": "monotone"}, "encoding": {"detail": {"field": "k", "type": "nominal"}}},
       {"data": {"name": "ref"}, "transform": [{"filter": "datum.k == 'eq'"}], "mark": {"type": "line", "color": "black", "strokeWidth": 1.2, "strokeDash": [4, 4], "clip": true}, "encoding": {}}
     ]},
    {"title": "Cotonou CALITOO", "width": 250, "height": 185,
     "encoding": {"x": {"field": "x", "type": "quantitative", "scale": {"type": "log", "domain": [0.04, 3.93]}, "axis": {"values": [0.1, 0.3, 1, 3], "format": ".1f", "title": null}}, "y": {"field": "y", "type": "quantitative", "scale": {"type": "log", "domain": [0.04, 4.0]}, "axis": {"values": [0.1, 0.3, 1, 3], "format": ".1f", "title": null}}},
     "layer": [
       {"data": {"name": "CO"}, "mark": {"type": "circle", "size": 80, "opacity": 0.6, "color": "#4DBBD5", "clip": true}},
       {"data": {"name": "ref"}, "transform": [{"filter": "datum.k != 'eq'"}], "mark": {"type": "line", "color": "#7F7F7F", "strokeWidth": 1.3, "clip": true, "interpolate": "monotone"}, "encoding": {"detail": {"field": "k", "type": "nominal"}}},
       {"data": {"name": "ref"}, "transform": [{"filter": "datum.k == 'eq'"}], "mark": {"type": "line", "color": "black", "strokeWidth": 1.2, "strokeDash": [4, 4], "clip": true}, "encoding": {}}
     ]},
    {"title": "Save CALITOO", "width": 250, "height": 185,
     "encoding": {"x": {"field": "x", "type": "quantitative", "scale": {"type": "log", "domain": [0.04, 3.93]}, "axis": {"values": [0.1, 0.3, 1, 3], "format": ".1f", "title": null}}, "y": {"field": "y", "type": "quantitative", "scale": {"type": "log", "domain": [0.04, 4.0]}, "axis": {"values": [0.1, 0.3, 1, 3], "format": ".1f", "title": null}}},
     "layer": [
       {"data": {"name": "SA"}, "mark": {"type": "circle", "size": 80, "opacity": 0.6, "color": "#00A087", "clip": true}},
       {"data": {"name": "ref"}, "transform": [{"filter": "datum.k != 'eq'"}], "mark": {"type": "line", "color": "#7F7F7F", "strokeWidth": 1.3, "clip": true, "interpolate": "monotone"}, "encoding": {"detail": {"field": "k", "type": "nominal"}}},
       {"data": {"name": "ref"}, "transform": [{"filter": "datum.k == 'eq'"}], "mark": {"type": "line", "color": "black", "strokeWidth": 1.2, "strokeDash": [4, 4], "clip": true}, "encoding": {}}
     ]}
  ], "spacing": 82, "bounds": "flush"},
  {"hconcat": [
    {"title": "Lamto CALITOO", "width": 250, "height": 185,
     "encoding": {"x": {"field": "x", "type": "quantitative", "scale": {"type": "log", "domain": [0.04, 3.93]}, "axis": {"values": [0.1, 0.3, 1, 3], "format": ".1f", "title": null}}, "y": {"field": "y", "type": "quantitative", "scale": {"type": "log", "domain": [0.04, 4.0]}, "axis": {"values": [0.1, 0.3, 1, 3], "format": ".1f", "title": "MODIS log AOD", "titleX": -84, "titleY": 110, "titleAngle": 270, "titleAlign": "center", "titleBaseline": "alphabetic", "titleFont": "Liberation Sans", "titleFontSize": 28, "titleFontWeight": "bold", "titleColor": "black"}}},
     "layer": [
       {"data": {"name": "LC"}, "mark": {"type": "circle", "size": 80, "opacity": 0.6, "color": "#3C5488", "clip": true}},
       {"data": {"name": "ref"}, "transform": [{"filter": "datum.k != 'eq'"}], "mark": {"type": "line", "color": "#7F7F7F", "strokeWidth": 1.3, "clip": true, "interpolate": "monotone"}, "encoding": {"detail": {"field": "k", "type": "nominal"}}},
       {"data": {"name": "ref"}, "transform": [{"filter": "datum.k == 'eq'"}], "mark": {"type": "line", "color": "black", "strokeWidth": 1.2, "strokeDash": [4, 4], "clip": true}, "encoding": {}}
     ]},
    {"title": "Koforidua AERONET", "width": 250, "height": 185,
     "encoding": {"x": {"field": "x", "type": "quantitative", "scale": {"type": "log", "domain": [0.04, 3.93]}, "axis": {"values": [0.1, 0.3, 1, 3], "format": ".1f", "title": null}}, "y": {"field": "y", "type": "quantitative", "scale": {"type": "log", "domain": [0.04, 4.0]}, "axis": {"values": [0.1, 0.3, 1, 3], "format": ".1f", "title": null}}},
     "layer": [
       {"data": {"name": "KO"}, "mark": {"type": "circle", "size": 80, "opacity": 0.6, "color": "#F39B7F", "clip": true}},
       {"data": {"name": "ref"}, "transform": [{"filter": "datum.k != 'eq'"}], "mark": {"type": "line", "color": "#7F7F7F", "strokeWidth": 1.3, "clip": true, "interpolate": "monotone"}, "encoding": {"detail": {"field": "k", "type": "nominal"}}},
       {"data": {"name": "ref"}, "transform": [{"filter": "datum.k == 'eq'"}], "mark": {"type": "line", "color": "black", "strokeWidth": 1.2, "strokeDash": [4, 4], "clip": true}, "encoding": {}}
     ]},
    {"title": "Ilorin AERONET", "width": 250, "height": 185,
     "encoding": {"x": {"field": "x", "type": "quantitative", "scale": {"type": "log", "domain": [0.04, 3.93]}, "axis": {"values": [0.1, 0.3, 1, 3], "format": ".1f", "title": null}}, "y": {"field": "y", "type": "quantitative", "scale": {"type": "log", "domain": [0.04, 4.0]}, "axis": {"values": [0.1, 0.3, 1, 3], "format": ".1f", "title": null}}},
     "layer": [
       {"data": {"name": "IL"}, "mark": {"type": "circle", "size": 80, "opacity": 0.6, "color": "#8491B4", "clip": true}},
       {"data": {"name": "ref"}, "transform": [{"filter": "datum.k != 'eq'"}], "mark": {"type": "line", "color": "#7F7F7F", "strokeWidth": 1.3, "clip": true, "interpolate": "monotone"}, "encoding": {"detail": {"field": "k", "type": "nominal"}}},
       {"data": {"name": "ref"}, "transform": [{"filter": "datum.k == 'eq'"}], "mark": {"type": "line", "color": "black", "strokeWidth": 1.2, "strokeDash": [4, 4], "clip": true}, "encoding": {}}
     ]}
  ], "spacing": 82, "bounds": "flush"},
  {"hconcat": [
    {"title": "Lamto AERONET", "width": 250, "height": 185,
     "encoding": {"x": {"field": "x", "type": "quantitative", "scale": {"type": "log", "domain": [0.04, 3.93]}, "axis": {"values": [0.1, 0.3, 1, 3], "format": ".1f", "title": null}}, "y": {"field": "y", "type": "quantitative", "scale": {"type": "log", "domain": [0.04, 4.0]}, "axis": {"values": [0.1, 0.3, 1, 3], "format": ".1f", "title": null}}},
     "layer": [
       {"data": {"name": "LA"}, "mark": {"type": "circle", "size": 80, "opacity": 0.6, "color": "#FF0000", "clip": true}},
       {"data": {"name": "ref"}, "transform": [{"filter": "datum.k != 'eq'"}], "mark": {"type": "line", "color": "#7F7F7F", "strokeWidth": 1.3, "clip": true, "interpolate": "monotone"}, "encoding": {"detail": {"field": "k", "type": "nominal"}}},
       {"data": {"name": "ref"}, "transform": [{"filter": "datum.k == 'eq'"}], "mark": {"type": "line", "color": "black", "strokeWidth": 1.2, "strokeDash": [4, 4], "clip": true}, "encoding": {}}
     ]},
    {"title": "Lamto HHC", "width": 250, "height": 185,
     "encoding": {"x": {"field": "x", "type": "quantitative", "scale": {"type": "log", "domain": [0.04, 3.93]}, "axis": {"values": [0.1, 0.3, 1, 3], "format": ".1f", "title": "PHOTOMETER log AOD", "titleX": 111, "titleY": 91, "titleAlign": "center", "titleBaseline": "alphabetic", "titleFont": "Liberation Sans", "titleFontSize": 28, "titleFontWeight": "bold", "titleColor": "black"}}, "y": {"field": "y", "type": "quantitative", "scale": {"type": "log", "domain": [0.04, 4.0]}, "axis": {"values": [0.1, 0.3, 1, 3], "format": ".1f", "title": null}}},
     "layer": [
       {"data": {"name": "LH"}, "mark": {"type": "circle", "size": 80, "opacity": 0.6, "color": "#DC0000", "clip": true}},
       {"data": {"name": "ref"}, "transform": [{"filter": "datum.k != 'eq'"}], "mark": {"type": "line", "color": "#7F7F7F", "strokeWidth": 1.3, "clip": true, "interpolate": "monotone"}, "encoding": {"detail": {"field": "k", "type": "nominal"}}},
       {"data": {"name": "ref"}, "transform": [{"filter": "datum.k == 'eq'"}], "mark": {"type": "line", "color": "black", "strokeWidth": 1.2, "strokeDash": [4, 4], "clip": true}, "encoding": {}}
     ]},
    {"title": "Comoe CALITOO", "width": 250, "height": 185,
     "encoding": {"x": {"field": "x", "type": "quantitative", "scale": {"type": "log", "domain": [0.04, 3.93]}, "axis": {"values": [0.1, 0.3, 1, 3], "format": ".1f", "title": null}}, "y": {"field": "y", "type": "quantitative", "scale": {"type": "log", "domain": [0.04, 4.0]}, "axis": {"values": [0.1, 0.3, 1, 3], "format": ".1f", "title": null}}},
     "layer": [
       {"data": {"name": "CM"}, "mark": {"type": "circle", "size": 80, "opacity": 0.6, "color": "#7E6148", "clip": true}},
       {"data": {"name": "ref"}, "transform": [{"filter": "datum.k != 'eq'"}], "mark": {"type": "line", "color": "#7F7F7F", "strokeWidth": 1.3, "clip": true, "interpolate": "monotone"}, "encoding": {"detail": {"field": "k", "type": "nominal"}}},
       {"data": {"name": "ref"}, "transform": [{"filter": "datum.k == 'eq'"}], "mark": {"type": "line", "color": "black", "strokeWidth": 1.2, "strokeDash": [4, 4], "clip": true}, "encoding": {}}
     ]}
  ], "spacing": 82, "bounds": "flush"}
],
"spacing": 318,
"bounds": "flush"
}
